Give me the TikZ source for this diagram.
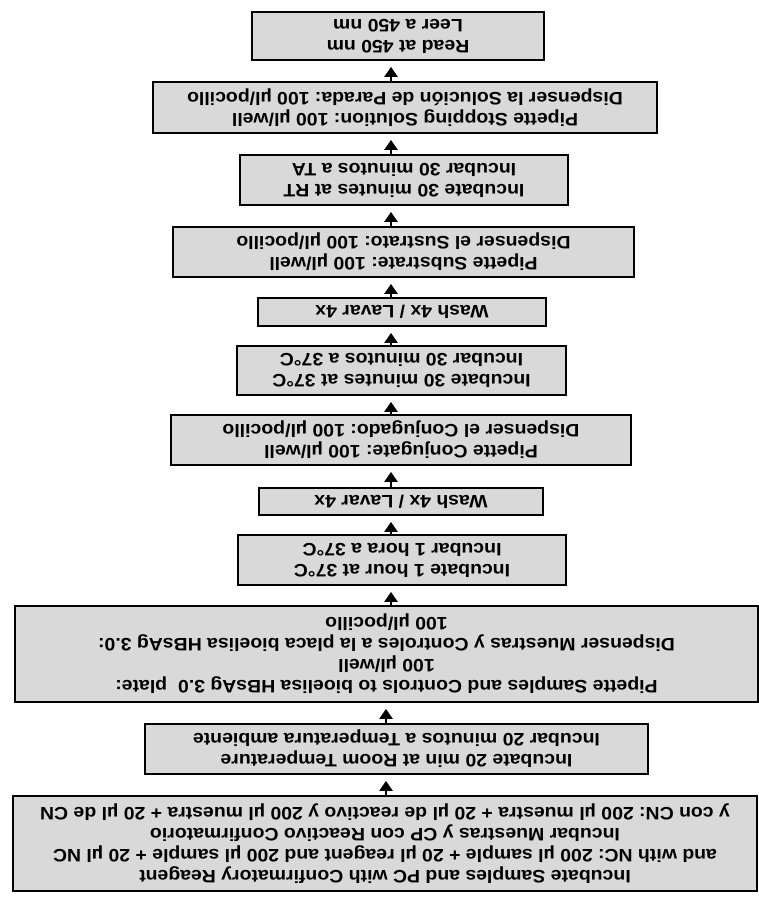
\documentclass[tikz,border=0pt]{standalone}
\usepackage{fontspec}
\setmainfont[FakeStretch=1.08]{Liberation Sans}
\usetikzlibrary{arrows.meta}
\frenchspacing
\tikzset{
  stepbox/.style={draw=black, line width=1.8pt, fill=black!15, rotate=180,
    align=center, inner sep=0pt, text=black,
    font=\fontsize{18}{21}\selectfont\bfseries\frenchspacing},
  flowarrow/.style={line width=2.8pt, -{Triangle[width=13pt,length=10pt]}, shorten >=6pt}
}
\begin{document}
\begin{tikzpicture}[x=1pt,y=-1pt]
\path[use as bounding box, fill=white] (0,0) rectangle (759,902);
\coordinate (ax) at (391,0);
\coordinate (bx) at (386,0);

\node[stepbox, minimum width=744pt, minimum height=95pt] (b1) at (385,843.5)
 {Incubate Samples and PC with Confirmatory Reagent\\
  and with NC: 200 µl sample + 20 µl reagent and 200 µl sample + 20 µl NC\\
  Incubar Muestras y CP con Reactivo Confirmatorio\\
  y con CN: 200 µl muestra + 20 µl de reactivo y 200 µl muestra + 20 µl de CN};
\node[stepbox, minimum width=503pt, minimum height=50pt] (b2) at (396.5,749)
 {Incubate 20 min at Room Temperature\\Incubar 20 minutos a Temperatura ambiente};
\node[stepbox, minimum width=743pt, minimum height=96pt] (b3) at (386.5,654)
 {Pipette Samples and Controls to bioelisa HBsAg 3.0\ \ plate:\\100 µl/well\\
  Dispenser Muestras y Controles a la placa bioelisa HBsAg 3.0:\\100 µl/pocillo};
\node[stepbox, minimum width=328pt, minimum height=50pt] (b4) at (402,560)
 {Incubate 1 hour at 37°C\\Incubar 1 hora a 37°C};
\node[stepbox, minimum width=284pt, minimum height=27pt] (b5) at (401,501.5)
 {Wash 4x / Lavar 4x};
\node[stepbox, minimum width=460pt, minimum height=50pt] (b6) at (401,440)
 {Pipette Conjugate: 100 µl/well\\Dispenser el Conjugado: 100 µl/pocillo};
\node[stepbox, minimum width=329pt, minimum height=49pt] (b7) at (401.5,370.5)
 {Incubate 30 minutes at 37°C\\Incubar 30 minutos a 37°C};
\node[stepbox, minimum width=288pt, minimum height=28pt] (b8) at (402,312)
 {Wash 4x / Lavar 4x};
\node[stepbox, minimum width=461pt, minimum height=50pt] (b9) at (403.5,252)
 {Pipette Substrate: 100 µl/well\\Dispenser el Sustrato: 100 µl/pocillo};
\node[stepbox, minimum width=328pt, minimum height=50pt] (b10) at (404,180)
 {Incubate 30 minutes at RT\\Incubar 30 minutos a TA};
\node[stepbox, minimum width=504pt, minimum height=51pt] (b11) at (405,107.5)
 {Pipette Stopping Solution: 100 µl/well\\Dispenser la Solución de Parada: 100 µl/pocillo};
\node[stepbox, minimum width=292pt, minimum height=48pt] (b12) at (398,36)
 {Read at 450 nm\\Leer a 450 nm};

\draw[flowarrow] (b1.south -| bx) -- (b2.north -| bx);
\draw[flowarrow] (b2.south -| bx) -- (b3.north -| bx);
\draw[flowarrow] (b3.south -| ax) -- (b4.north -| ax);
\draw[flowarrow] (b4.south -| ax) -- (b5.north -| ax);
\draw[flowarrow] (b5.south -| ax) -- (b6.north -| ax);
\draw[flowarrow] (b6.south -| ax) -- (b7.north -| ax);
\draw[flowarrow] (b7.south -| ax) -- (b8.north -| ax);
\draw[flowarrow] (b8.south -| ax) -- (b9.north -| ax);
\draw[flowarrow] (b9.south -| ax) -- (b10.north -| ax);
\draw[flowarrow] (b10.south -| ax) -- (b11.north -| ax);
\draw[flowarrow] (b11.south -| ax) -- (b12.north -| ax);
\end{tikzpicture}
\end{document}
